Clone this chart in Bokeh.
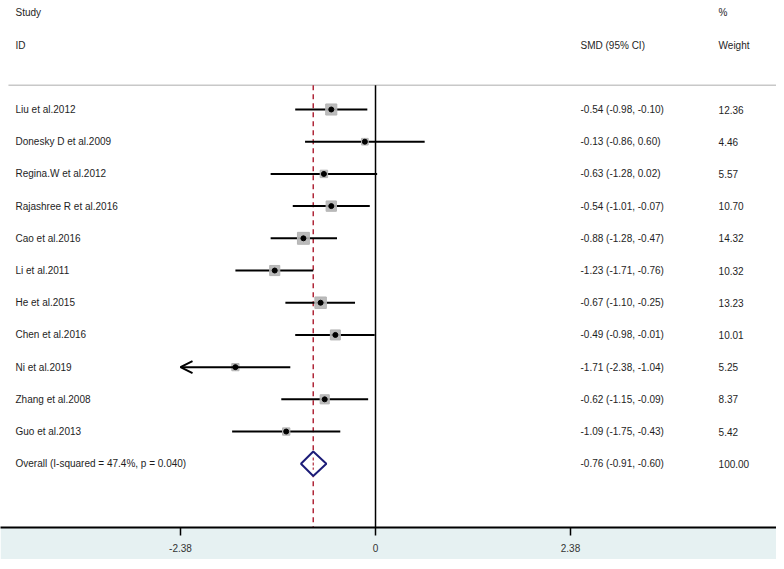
from bokeh.plotting import figure
from bokeh.models import Range1d, FixedTicker, CustomJSTickFormatter, Arrow, OpenHead, ColumnDataSource
from bokeh.core.properties import value
from bokeh.embed import file_html
from bokeh.resources import INLINE
import math

studies = ["Liu et al.2012", "Donesky D et al.2009", "Regina.W et al.2012", "Rajashree R et al.2016",
           "Cao et al.2016", "Li et al.2011", "He et al.2015", "Chen et al.2016", "Ni et al.2019",
           "Zhang et al.2008", "Guo et al.2013"]
smd = [-0.54, -0.13, -0.63, -0.54, -0.88, -1.23, -0.67, -0.49, -1.71, -0.62, -1.09]
lower = [-0.98, -0.86, -1.28, -1.01, -1.28, -1.71, -1.10, -0.98, -2.38, -1.15, -1.75]
upper = [-0.10, 0.60, 0.02, -0.07, -0.47, -0.76, -0.25, -0.01, -1.04, -0.09, -0.43]
weights = [12.36, 4.46, 5.57, 10.70, 14.32, 10.32, 13.23, 10.01, 5.25, 8.37, 5.42]
overall_label = "Overall  (I-squared = 47.4%, p = 0.040)"
overall = [-0.76, -0.91, -0.60]
overall_weight = 100.00
ticks = [-2.38, 0, 2.38]
axis_min = -2.38  # CI clipped with arrow below this

FONT = "Liberation Sans"
TXT = "#1e1e1e"
X0, X1 = -4.577, 4.894
Y_BOTTOM, Y_TOP = 12.98, -3.385

p = figure(width=776, height=559, output_backend="svg", toolbar_location=None,
           x_range=Range1d(X0, X1), y_range=Range1d(Y_BOTTOM, Y_TOP),
           min_border_left=0, min_border_right=0, min_border_top=0, min_border_bottom=32)
p.outline_line_color = None
p.background_fill_color = "white"
p.border_fill_color = "#e6f1f2"
p.xgrid.visible = False
p.ygrid.visible = False
p.yaxis.visible = False

p.xaxis.ticker = FixedTicker(ticks=ticks)
p.xaxis.formatter = CustomJSTickFormatter(code="return tick == 0 ? '0' : tick.toFixed(2);")
p.xaxis.axis_line_width = 2
p.xaxis.axis_line_color = "black"
p.xaxis.major_tick_line_width = 1.5
p.xaxis.major_tick_out = 8
p.xaxis.major_tick_in = 0
p.xaxis.minor_tick_line_color = None
p.xaxis.major_label_standoff = 8
p.xaxis.major_label_text_font = FONT
p.xaxis.major_label_text_font_size = "10px"
p.xaxis.major_label_text_color = "#333333"

n = len(studies)
rows = list(range(n))
overall_row = n
top_rule = -0.75

# top rule
p.segment(x0=[-4.48], x1=[X1], y0=[top_rule], y1=[top_rule], line_color="#c8c8c8", line_width=1.5)
# zero line
p.segment(x0=[0], x1=[0], y0=[top_rule], y1=[Y_BOTTOM], line_color="black", line_width=1.5)
# overall dashed line
p.segment(x0=[overall[0]], x1=[overall[0]], y0=[top_rule], y1=[Y_BOTTOM], line_color="#b0283a",
          line_width=1.5, line_dash="5 4")

# CI lines
for i in range(n):
    if lower[i] <= axis_min:
        p.add_layout(Arrow(end=OpenHead(size=12, line_width=2, line_color="black"),
                           x_start=upper[i], y_start=rows[i], x_end=axis_min, y_end=rows[i],
                           line_width=2, line_color="black"))
    else:
        p.segment(x0=[lower[i]], x1=[upper[i]], y0=[rows[i]], y1=[rows[i]], line_color="black", line_width=2)

src = ColumnDataSource(dict(x=smd, y=rows, size=[3.15 * math.sqrt(w) for w in weights]))
p.scatter("x", "y", size="size", marker="square", source=src, fill_color="#b4b4b4",
          line_color="#b4b4b4", fill_alpha=0.9)
p.scatter("x", "y", size=5, marker="circle", source=src, fill_color="black", line_color="black")

# overall diamond
dh = 0.38
p.patch(x=[overall[1], overall[0], overall[2], overall[0]],
        y=[overall_row, overall_row - dh, overall_row, overall_row + dh],
        fill_color="white", line_color="#1c1c78", line_width=2)
p.segment(x0=[overall[0]], x1=[overall[0]], y0=[overall_row - dh * 0.5], y1=[overall_row + dh * 0.5],
          line_color="#b0283a", line_width=1.2, line_dash="3 2")

# text columns
x_study = -4.394
x_smd = 2.502
x_wt = 4.187
labels = studies + [overall_label]
est_txt = [f"{m:.2f} ({l:.2f}, {u:.2f})" for m, l, u in zip(smd, lower, upper)] + \
          [f"{overall[0]:.2f} ({overall[1]:.2f}, {overall[2]:.2f})"]
wt_txt = [f"{w:.2f}" for w in weights] + [f"{overall_weight:.2f}"]
all_rows = rows + [overall_row]

common = dict(text_font=value(FONT), text_font_size="10px", text_color=TXT, text_baseline="middle")
p.text(x=[x_study] * len(labels), y=all_rows, text=labels, **common)
p.text(x=[x_smd] * len(est_txt), y=all_rows, text=est_txt, **common)
p.text(x=[x_wt] * len(wt_txt), y=all_rows, text=wt_txt, **common)

# headers
p.text(x=[x_study, x_study, x_smd, x_wt, x_wt], y=[-3, -2, -2, -3, -2],
       text=["Study", "ID", "SMD (95% CI)", "%", "Weight"], **common)

open("out.html", "w").write(file_html(p, INLINE))
